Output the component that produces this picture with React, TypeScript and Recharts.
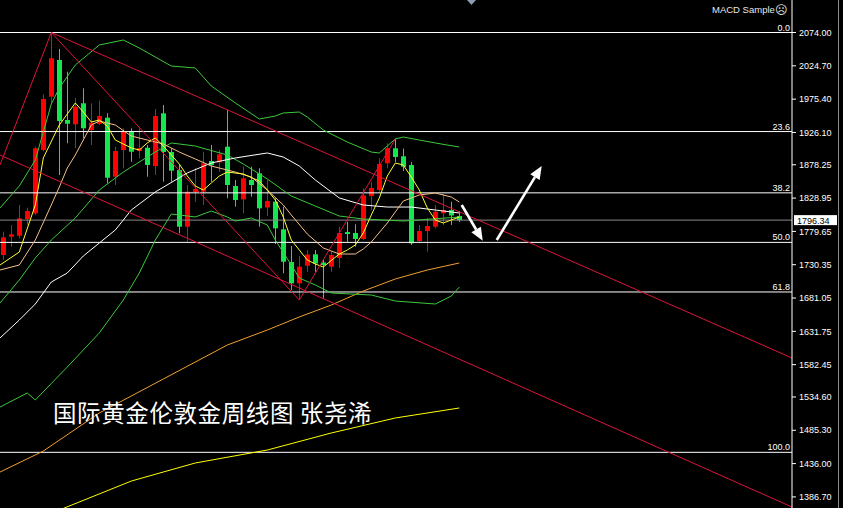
import { ComposedChart, Bar, Line, XAxis, YAxis, ReferenceLine } from "recharts";

// weekly gold candles, index 0..57
const opens = [1744.7, 1771.8, 1773.3, 1798.0, 1806.4, 1900.1, 1979.0, 2033.3, 1944.5, 1938.1, 1969.2, 1929.7, 1938.6, 1947.9, 1860.6, 1900.1, 1927.2, 1898.6, 1903.5, 1876.4, 1954.4, 1897.1, 1870.5, 1786.6, 1837.9, 1838.4, 1883.8, 1881.9, 1905.0, 1846.8, 1827.1, 1855.7, 1865.6, 1815.0, 1823.6, 1782.7, 1734.3, 1702.8, 1728.9, 1745.7, 1733.6, 1727.4, 1740.3, 1778.7, 1777.3, 1768.4, 1832.0, 1840.9, 1880.4, 1902.6, 1890.8, 1877.9, 1765.4, 1780.2, 1786.6, 1806.4, 1811.3, 1802.4];
const highs = [1779.2, 1789.1, 1818.7, 1814.7, 1905.0, 1982.5, 2074.0, 2049.6, 2016.0, 1977.1, 1991.4, 1969.2, 1973.1, 1954.4, 1905.0, 1932.2, 1932.2, 1932.2, 1907.5, 1960.8, 1966.7, 1903.1, 1877.9, 1848.3, 1873.5, 1897.6, 1907.5, 1900.1, 1959.3, 1855.7, 1875.4, 1875.4, 1873.0, 1855.7, 1828.6, 1816.2, 1758.0, 1743.2, 1752.1, 1752.1, 1737.3, 1749.6, 1786.6, 1794.0, 1790.1, 1843.4, 1852.7, 1887.8, 1910.0, 1917.1, 1902.3, 1882.3, 1789.1, 1799.5, 1818.7, 1835.0, 1823.6, 1809.8];
const lows = [1737.3, 1757.0, 1769.4, 1789.1, 1803.9, 1898.0, 1969.7, 1863.1, 1910.0, 1903.1, 1917.4, 1907.5, 1937.1, 1850.8, 1848.3, 1873.0, 1882.8, 1887.8, 1860.6, 1863.1, 1853.2, 1853.2, 1776.8, 1764.4, 1823.1, 1818.7, 1853.2, 1868.0, 1828.6, 1816.2, 1806.4, 1831.0, 1786.6, 1802.4, 1761.0, 1717.6, 1692.9, 1678.1, 1719.6, 1719.6, 1680.3, 1720.0, 1725.5, 1764.4, 1757.0, 1766.9, 1811.3, 1838.4, 1873.0, 1882.3, 1869.0, 1759.5, 1764.4, 1749.6, 1784.2, 1789.1, 1789.1, 1793.5];
const closes = [1770.9, 1775.3, 1799.0, 1809.8, 1902.6, 1975.6, 2035.8, 1943.0, 1939.0, 1964.2, 1932.2, 1940.5, 1950.4, 1859.1, 1898.6, 1928.2, 1897.6, 1903.1, 1877.9, 1950.4, 1897.1, 1869.5, 1786.6, 1838.4, 1842.4, 1880.4, 1877.9, 1893.7, 1848.3, 1826.1, 1858.2, 1848.3, 1813.8, 1824.6, 1784.2, 1734.8, 1702.8, 1727.4, 1745.4, 1732.1, 1729.9, 1744.7, 1777.3, 1775.8, 1768.4, 1832.8, 1843.9, 1879.4, 1902.6, 1889.7, 1875.4, 1762.0, 1780.2, 1787.6, 1808.8, 1811.3, 1803.2, 1796.34];

// indicator lines as [bar index, price]
const fastMa: [number, number][] = [[-0.41, 1729.9], [2, 1749.1], [4, 1818.7], [5, 1888.3], [7, 1937.1], [9, 1969.7], [10, 1956.3], [11, 1941.5], [12, 1944.5], [13, 1935.6], [14, 1914.9], [16, 1903.1], [17, 1900.1], [18, 1910.5], [19, 1917.9], [20, 1906.0], [22, 1879.4], [23, 1861.6], [24, 1846.8], [25, 1840.9], [26, 1851.3], [27, 1861.6], [28, 1867.5], [30, 1864.6], [32, 1854.2], [33, 1840.9], [34, 1826.1], [35, 1800.9], [36, 1766.9], [37, 1752.1], [38, 1737.3], [39, 1731.4], [40, 1727.0], [42, 1746.2], [43, 1752.1], [44, 1759.5], [45, 1777.3], [46, 1803.9], [47, 1829.1], [48, 1861.6], [49, 1880.9], [50, 1877.9], [51, 1860.1], [52, 1840.9], [53, 1814.3], [54, 1796.5], [55, 1792.1], [56, 1796.5], [57, 1800.9]];
const slowMa: [number, number][] = [[-0.41, 1722.5], [2, 1729.9], [4, 1766.9], [6, 1818.7], [7, 1845.3], [8, 1873.5], [9, 1892.7], [10, 1914.9], [11, 1937.1], [12, 1943.0], [14, 1937.1], [16, 1920.8], [18, 1914.9], [20, 1909.0], [22, 1897.1], [24, 1886.8], [26, 1876.4], [29, 1867.5], [31, 1860.1], [33, 1840.9], [35, 1818.7], [36, 1803.9], [38, 1775.8], [40, 1755.1], [42, 1746.2], [44, 1746.2], [45, 1753.6], [46, 1763.9], [48, 1792.1], [50, 1824.6], [52, 1833.5], [54, 1836.5], [56, 1830.5], [57, 1823.1]];
const whiteMa: [number, number][] = [[-0.41, 1621.9], [2, 1648.5], [4, 1672.2], [6, 1704.7], [8, 1718.1], [10, 1743.2], [12, 1762.5], [14, 1781.7], [16, 1811.3], [19, 1838.0], [23, 1866.1], [26, 1880.9], [29, 1888.3], [33, 1895.7], [35, 1889.7], [37, 1876.4], [39, 1855.7], [42, 1829.1], [45, 1818.7], [48, 1815.7], [51, 1815.7], [54, 1811.3], [57, 1806.9]];
const bandUpper: [number, number][] = [[-0.41, 1814.3], [2, 1846.8], [4, 1885.3], [6, 1968.2], [7, 1991.9], [9, 2025.9], [12, 2055.5], [15, 2062.9], [17, 2051.1], [19, 2037.7], [21, 2024.4], [24, 2021.5], [26, 1994.8], [29, 1969.7], [32, 1946.0], [34, 1950.4], [35, 1954.9], [37, 1956.3], [38, 1948.9], [40, 1929.7], [43, 1911.9], [46, 1897.1], [47, 1895.7], [48, 1906.0], [49, 1916.4], [50, 1919.3], [52, 1914.9], [54, 1910.5], [57, 1904.5]];
const bandMid: [number, number][] = [[-0.41, 1673.7], [2, 1707.7], [4, 1740.3], [6, 1766.9], [9, 1799.5], [12, 1840.9], [15, 1867.5], [19, 1897.1], [21, 1910.5], [24, 1906.0], [28, 1892.7], [30, 1879.4], [33, 1857.2], [36, 1832.0], [39, 1817.2], [42, 1802.4], [45, 1798.0], [50, 1795.0], [57, 1800.9]];
const bandLower: [number, number][] = [[-0.41, 1519.7], [3, 1540.5], [4, 1530.1], [8, 1579.0], [12, 1629.3], [15, 1678.1], [17, 1718.1], [19, 1766.9], [21, 1805.4], [24, 1801.0], [26, 1809.8], [28, 1801.0], [29, 1795.0], [31, 1799.5], [33, 1789.1], [34, 1766.9], [36, 1729.9], [37, 1710.7], [39, 1700.3], [41, 1688.5], [46, 1685.5], [49, 1676.6], [54, 1672.2], [56, 1684.0], [57, 1697.3]];
const longMa: [number, number][] = [[-0.41, 1423.5], [5, 1454.6], [12, 1510.9], [20, 1561.2], [28, 1611.5], [33, 1633.7], [37, 1653.0], [41, 1670.7], [45, 1691.4], [49, 1709.2], [53, 1722.5], [57, 1732.9]];
const longerMa: [number, number][] = [[7, 1367.3], [16, 1410.2], [24, 1436.9], [33, 1456.1], [41, 1481.3], [49, 1503.5], [57, 1518.3]];

// drawn objects
const zigzag: [number, number][] = [[-0.4125, 1877.9], [6, 2074.0], [37, 1678.1], [49, 1916.4]];
const channelUpper: [number, number][] = [[6, 2074.0], [98.5875, 1592.3]];
const channelLower: [number, number][] = [[-0.4125, 1892.7], [98.5875, 1371.7]];
const arrowDown: [number, number][] = [[57.3, 1818.7], [59.93, 1765.9]];
const arrowUp: [number, number][] = [[61.68, 1766.9], [67.3, 1876.4]];

const fibLevels = [2074.0, 1927.4, 1836.7, 1763.4, 1690.0, 1452.7];
const fibLabels = ["0.0", "23.6", "38.2", "50.0", "61.8", "100.0"];
const lastPrice = 1796.34;
const priceTicks = [2074.0, 2024.7, 1975.4, 1926.1, 1878.25, 1828.95, 1779.65, 1730.35, 1681.05, 1631.75, 1582.45, 1534.6, 1485.3, 1436.0, 1386.7];

const UP = "#ff0000";
const DOWN = "#14e650";
const TREND = "#dc143c";

const candles = opens.map((o, i) => ({
  x: i,
  range: [lows[i], highs[i]],
  open: o,
  close: closes[i],
  high: highs[i],
  low: lows[i],
}));

const toPts = (arr: [number, number][]) => arr.map(([x, v]) => ({ x, v }));

function Candle(props: any) {
  const { x, y, width, height, payload } = props;
  if (height == null || isNaN(height)) return null;
  const { open, close, high, low } = payload;
  const cx = Math.round(x + width / 2) + 0.5;
  const toY = (v: number) => y + ((high - v) / (high - low)) * height;
  const color = close >= open ? UP : DOWN;
  const top = toY(Math.max(open, close));
  const bot = toY(Math.min(open, close));
  return (
    <g>
      <line x1={cx} x2={cx} y1={y} y2={y + height} stroke={color} strokeWidth={1} />
      <rect x={cx - 2.5} y={top} width={5} height={Math.max(1, bot - top)} fill={color} />
    </g>
  );
}

function ArrowShape(props: any) {
  const { x1, y1, x2, y2 } = props;
  const dx = x2 - x1;
  const dy = y2 - y1;
  const len = Math.hypot(dx, dy) || 1;
  const ux = dx / len;
  const uy = dy / len;
  const bx = x2 - ux * 13;
  const by = y2 - uy * 13;
  const hw = 5.5;
  return (
    <g>
      <line x1={x1} y1={y1} x2={bx} y2={by} stroke="#fff" strokeWidth={2.6} />
      <polygon points={`${x2},${y2} ${bx - uy * hw},${by + ux * hw} ${bx + uy * hw},${by - ux * hw}`} fill="#fff" />
    </g>
  );
}

const fibLabel = (text: string) => (p: any) => {
  const vb = p.viewBox;
  return (
    <text x={vb.x + vb.width - 2} y={vb.y - 2} textAnchor="end" fill="#fff" fontSize={9} fontFamily="Liberation Sans, Arial, sans-serif">
      {text}
    </text>
  );
};

const priceTag = (p: any) => {
  const vb = p.viewBox;
  const x0 = vb.x + vb.width + 2;
  return (
    <g>
      <rect x={x0} y={vb.y - 5} width={43} height={10} fill="#fff" />
      <text x={x0 + 3} y={vb.y + 3.5} fill="#000" fontSize={9} fontFamily="Liberation Sans, Arial, sans-serif">
        {lastPrice.toFixed(2)}
      </text>
    </g>
  );
};

const seg = (a: [number, number][]) => a.slice(1).map((b, k) => [{ x: a[k][0], y: a[k][1] }, { x: b[0], y: b[1] }]);

export default function App() {
  const lines: [string, [number, number][], string][] = [
    ["longerMa", longerMa, "#ffff00"],
    ["longMa", longMa, "#f0a030"],
    ["bandLower", bandLower, "#3cc83c"],
    ["bandMid", bandMid, "#3cc83c"],
    ["bandUpper", bandUpper, "#3cc83c"],
    ["whiteMa", whiteMa, "#ffffff"],
    ["slowMa", slowMa, "#f5c08a"],
    ["fastMa", fastMa, "#ffff30"],
  ];
  return (
    <div style={{ position: "absolute", left: 0, top: 0, width: 843, height: 508, background: "#000", overflow: "hidden" }}>
      <ComposedChart width={843} height={508} data={candles} margin={{ top: 0, right: 0, bottom: 0, left: 0 }}>
        <XAxis dataKey="x" type="number" domain={[-0.4125, 98.5875]} allowDataOverflow hide />
        <YAxis
          orientation="right"
          width={51}
          domain={[1370.3, 2122.1]}
          allowDataOverflow
          ticks={priceTicks}
          interval={0}
          tickFormatter={(v: number) => v.toFixed(2)}
          tick={{ fill: "#fff", fontSize: 9, fontFamily: "Liberation Sans, Arial, sans-serif" }}
          tickSize={4}
          tickMargin={3}
          stroke="#fff"
          axisLine={{ stroke: "#fff" }}
          tickLine={{ stroke: "#fff" }}
        />
        {fibLevels.map((lv, k) => (
          <ReferenceLine key={"fib" + k} y={lv} stroke="#fff" strokeWidth={1} label={fibLabel(fibLabels[k])} />
        ))}
        <ReferenceLine y={lastPrice} stroke="#8a8a8a" strokeWidth={1} label={priceTag} />
        <Bar dataKey="range" barSize={5} shape={<Candle />} isAnimationActive={false} />
        {lines.map(([name, pts, color]) => (
          <Line
            key={name}
            data={toPts(pts)}
            dataKey="v"
            type="linear"
            stroke={color}
            strokeWidth={1}
            dot={false}
            activeDot={false}
            isAnimationActive={false}
          />
        ))}
        {[...seg(zigzag), ...seg(channelUpper), ...seg(channelLower)].map((s, k) => (
          <ReferenceLine key={"tr" + k} segment={s} stroke={TREND} strokeWidth={1} ifOverflow="hidden" />
        ))}
        {[arrowDown, arrowUp].map((a, k) => (
          <ReferenceLine
            key={"ar" + k}
            segment={[{ x: a[0][0], y: a[0][1] }, { x: a[1][0], y: a[1][1] }]}
            shape={ArrowShape}
            ifOverflow="visible"
          />
        ))}
      </ComposedChart>
      <svg width={843} height={508} style={{ position: "absolute", left: 0, top: 0, pointerEvents: "none" }}>
        <polygon points="467,0 476,0 471.5,5" fill="#8c9cb0" />
        <text x={712} y={13} fill="#e6e6e6" fontSize={9.5} fontFamily="Liberation Sans, Arial, sans-serif">
          MACD Sample
        </text>
        <text x={775} y={14} fill="#e6e6e6" fontSize={12} fontFamily="DejaVu Sans, sans-serif">
          ☹
        </text>
        <text x={53} y={422} fill="#ffffff" fontSize={23.5} letterSpacing={0.6} fontFamily="Noto Sans CJK SC, sans-serif">
          国际黄金伦敦金周线图 张尧浠
        </text>
        <line x1={838.5} y1={0} x2={838.5} y2={508} stroke="#8a8a8a" strokeWidth={1} />
      </svg>
    </div>
  );
}
